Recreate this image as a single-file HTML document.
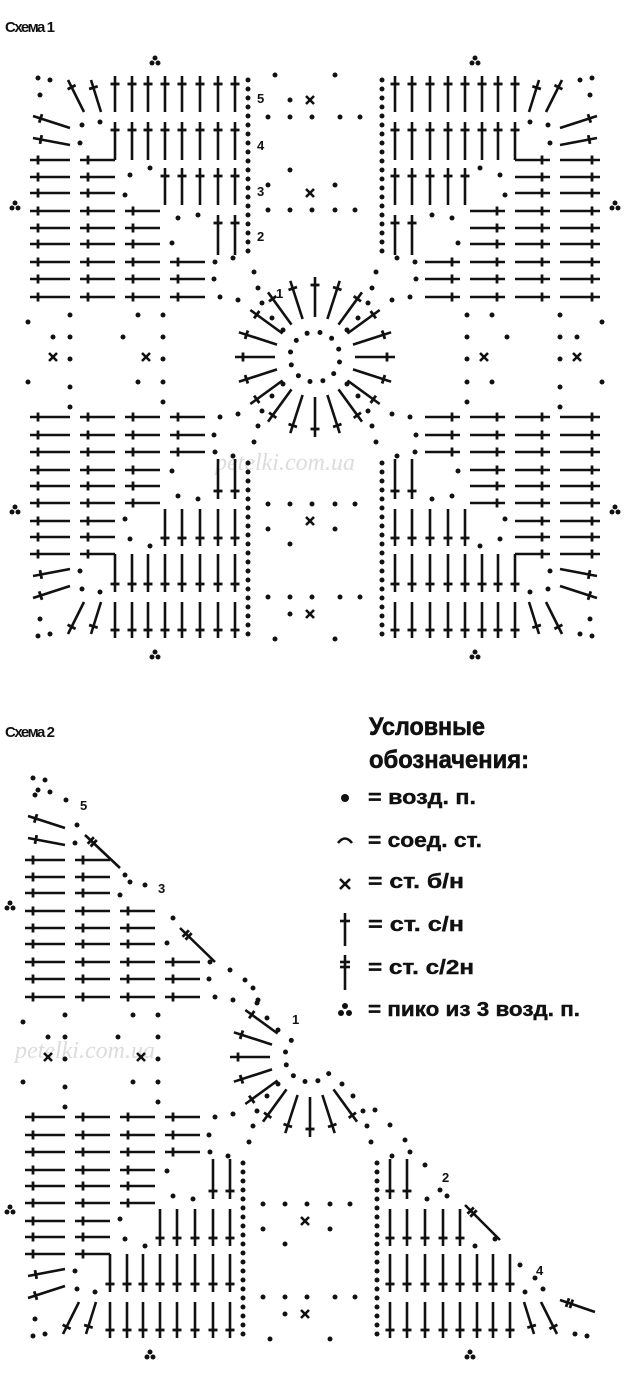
<!DOCTYPE html>
<html><head><meta charset="utf-8">
<style>
html,body{margin:0;padding:0;background:#fff;}
svg{display:block;}
text{font-family:"Liberation Sans",sans-serif;}
text.wm{font-family:"Liberation Serif",serif;font-style:italic;}
</style></head>
<body>
<svg id="s" width="630" height="1380" viewBox="0 0 630 1380" xmlns="http://www.w3.org/2000/svg">
<text x="5" y="32" font-size="15" font-weight="bold" fill="#111" textLength="50">Схема 1</text>
<text x="5" y="737" font-size="15" font-weight="bold" fill="#111" textLength="50">Схема 2</text>
<text class="wm" x="215" y="470" font-size="24" fill="#dcdcdc">petelki.com.ua</text>
<text class="wm" x="15" y="1058" font-size="24" fill="#dcdcdc">petelki.com.ua</text>
<g font-size="13" font-weight="bold" fill="#111">
<text x="257" y="103">5</text><text x="257" y="150">4</text><text x="257" y="196">3</text><text x="257" y="241">2</text><text x="276" y="298">1</text>
<text x="80" y="810">5</text><text x="158" y="893">3</text><text x="292" y="1024">1</text><text x="442" y="1182">2</text><text x="536" y="1275">4</text>
</g>
<g font-size="25" font-weight="bold" fill="#111" stroke="#111" stroke-width="0.6">
<text x="369" y="735" textLength="116" lengthAdjust="spacingAndGlyphs">Условные</text>
<text x="369" y="768" textLength="160" lengthAdjust="spacingAndGlyphs">обозначения:</text>
</g>
<g font-size="20" font-weight="bold" fill="#111" stroke="#111" stroke-width="0.4">
<text x="368" y="804" textLength="108" lengthAdjust="spacingAndGlyphs">= возд. п.</text>
<text x="368" y="847" textLength="114" lengthAdjust="spacingAndGlyphs">= соед. ст.</text>
<text x="368" y="888" textLength="96" lengthAdjust="spacingAndGlyphs">= ст. б/н</text>
<text x="368" y="931" textLength="96" lengthAdjust="spacingAndGlyphs">= ст. с/н</text>
<text x="368" y="974" textLength="106" lengthAdjust="spacingAndGlyphs">= ст. с/2н</text>
<text x="368" y="1016" textLength="212" lengthAdjust="spacingAndGlyphs">= пико из 3 возд. п.</text>
</g>
<g stroke="#111" stroke-width="2.6" fill="#111">
<circle cx="345" cy="798" r="4" stroke="none"/>
<path d="M338 843 Q345 834 352 843" fill="none"/>
<line x1="340" y1="879" x2="350" y2="889"/><line x1="340" y1="889" x2="350" y2="879"/>
<line x1="345" y1="913" x2="345" y2="946"/><line x1="340" y1="921" x2="350" y2="921"/>
<line x1="345" y1="955" x2="345" y2="990"/><line x1="340" y1="962" x2="350" y2="962"/><line x1="340" y1="967" x2="350" y2="967"/>
<circle cx="345" cy="1006" r="3" stroke="none"/><circle cx="341" cy="1013" r="3" stroke="none"/><circle cx="349" cy="1013" r="3" stroke="none"/>
</g>
<g id="g" stroke="#111" stroke-width="2.6" fill="#111" stroke-linecap="butt"></g>
</svg>
<script>
var g=document.getElementById('g'),out=[];
function L(x1,y1,x2,y2,w){out.push('<line x1="'+x1.toFixed(1)+'" y1="'+y1.toFixed(1)+'" x2="'+x2.toFixed(1)+'" y2="'+y2.toFixed(1)+'"'+(w?' stroke-width="'+w+'"':'')+'/>');}
function D(x,y,r){out.push('<circle cx="'+x.toFixed(1)+'" cy="'+y.toFixed(1)+'" r="'+(r||2.5)+'" stroke="none"/>');}
function X(x,y){L(x-4,y-4,x+4,y+4);L(x-4,y+4,x+4,y-4);}
function S(x1,y1,x2,y2,dbl){var dx=x2-x1,dy=y2-y1,l=Math.hypot(dx,dy),ux=dx/l,uy=dy/l,px=-uy,py=ux;
 L(x1,y1,x2,y2);var cx=x1+ux*8,cy=y1+uy*8;L(cx-px*4.5,cy-py*4.5,cx+px*4.5,cy+py*4.5,2.8);
 if(dbl){cx=x1+ux*12;cy=y1+uy*12;L(cx-px*4.5,cy-py*4.5,cx+px*4.5,cy+py*4.5,2.8);}}
var items=[];
function addS(a,b,c,d,dbl){items.push(['s',a,b,c,d,dbl]);}
function addD(a,b){items.push(['d',a,b]);}
function addX(a,b){items.push(['x',a,b]);}
function addP(a,b){items.push(['p',a,b]);}
var vx=[80,97,115,132,148,165,182,200,218,235];
var hy=[126,143,160,177,193,211,228,244,262,279,297];
vx.forEach(function(x,i){ if(i<2){addS(x-12+i*6,80,x+4,112);} else addS(x,76,x,112);});
vx.slice(2).forEach(function(x){addS(x,122,x,160);});
vx.slice(5).forEach(function(x){addS(x,168,x,205);});
vx.slice(8).forEach(function(x){addS(x,215,x,255);});
hy.forEach(function(y,i){ if(i<2){addS(33,y-10+i*5,70,y+2);} else addS(30,y,70,y);});
hy.slice(2).forEach(function(y){addS(80,y,115,y);});
hy.slice(5).forEach(function(y){addS(125,y,160,y);});
hy.slice(8).forEach(function(y){addS(170,y,205,y);});
[[38,78],[50,80],[40,95],[82,125],[100,122],[80,143],[130,175],[150,168],[125,195],[178,218],[198,215],[172,243],[215,262],[233,258],[214,279],[220,297],[238,300],[254,272],[258,288],[262,303],[272,318],[283,330]].forEach(function(p){addD(p[0],p[1]);});
for(var y=80;y<=258;y+=9)addD(248,y);
[[275,75],[290,100],[268,117],[290,117],[312,117],[268,185],[290,170],[268,210],[290,210],[312,210],[335,210],[355,210],[340,117],[360,117],[335,75],[335,185]].forEach(function(p){addD(p[0],p[1]);});
addX(310,100);addX(310,193);addP(155,60);addP(15,205);
var cx=310,cy=357;
var maps=[function(x,y){return[x,y];},function(x,y){return[2*cx-x+10,y];},function(x,y){return[x,2*cy-y];},function(x,y){return[2*cx-x+10,2*cy-y];}];
var stripMaps=[function(x,y){return[x,y];},function(x,y){return[x,2*cy-y];},function(x,y){return[cx+(y-cy),cy+(x-cx)];},function(x,y){return[cx-(y-cy)+10,cy+(x-cx)];}];
var center=[];
for(var i=0;i<20;i++){var a=i/20*Math.PI*2;center.push(['s',cx+5+Math.cos(a)*80,cy+Math.sin(a)*80,cx+5+Math.cos(a)*40,cy+Math.sin(a)*40]);}
for(i=0;i<12;i++){a=i/12*Math.PI*2+0.2;center.push(['d',cx+5+Math.cos(a)*25,cy+Math.sin(a)*25]);}
function draw(mapf,it,ox,oy,filt){
 var p=mapf(it[1],it[2]),q=it[0]=='s'?mapf(it[3],it[4]):p;
 var mx=(p[0]+q[0])/2,my=(p[1]+q[1])/2;
 if(filt&&my<mx+30)return;
 p=[p[0]+ox,p[1]+oy];q=[q[0]+ox,q[1]+oy];
 if(it[0]=='s')S(p[0],p[1],q[0],q[1],it[5]);
 else if(it[0]=='d')D(p[0],p[1]);
 else if(it[0]=='x')X(p[0],p[1]);
 else {D(p[0]-3,p[1]+3);D(p[0]+3,p[1]+3);D(p[0],p[1]-2);}
}
function scheme(ox,oy,filt){
 items.forEach(function(it){
  var strip=(it[0]=='x')||(it[0]=='d'&&it[1]>=262&&it[1]<=362&&it[2]<=215);
  (strip?stripMaps:maps).forEach(function(m){draw(m,it,ox,oy,filt);});
 });
 center.forEach(function(it){draw(maps[0],it,ox,oy,filt);});
}
scheme(0,0,false);
scheme(-5,700,true);
S(85,835,120,868,true);S(180,928,215,962,true);S(465,1205,500,1240,true);S(560,1300,595,1312,true);
[[38,790],[50,792],[66,800],[130,882],[145,885],[230,970],[245,980],[258,1000],[375,1110],[390,1125],[405,1140],[425,1165],[440,1190],[520,1265],[535,1278]].forEach(function(p){D(p[0],p[1]);});
g.innerHTML=out.join('');
</script>
</body></html>
